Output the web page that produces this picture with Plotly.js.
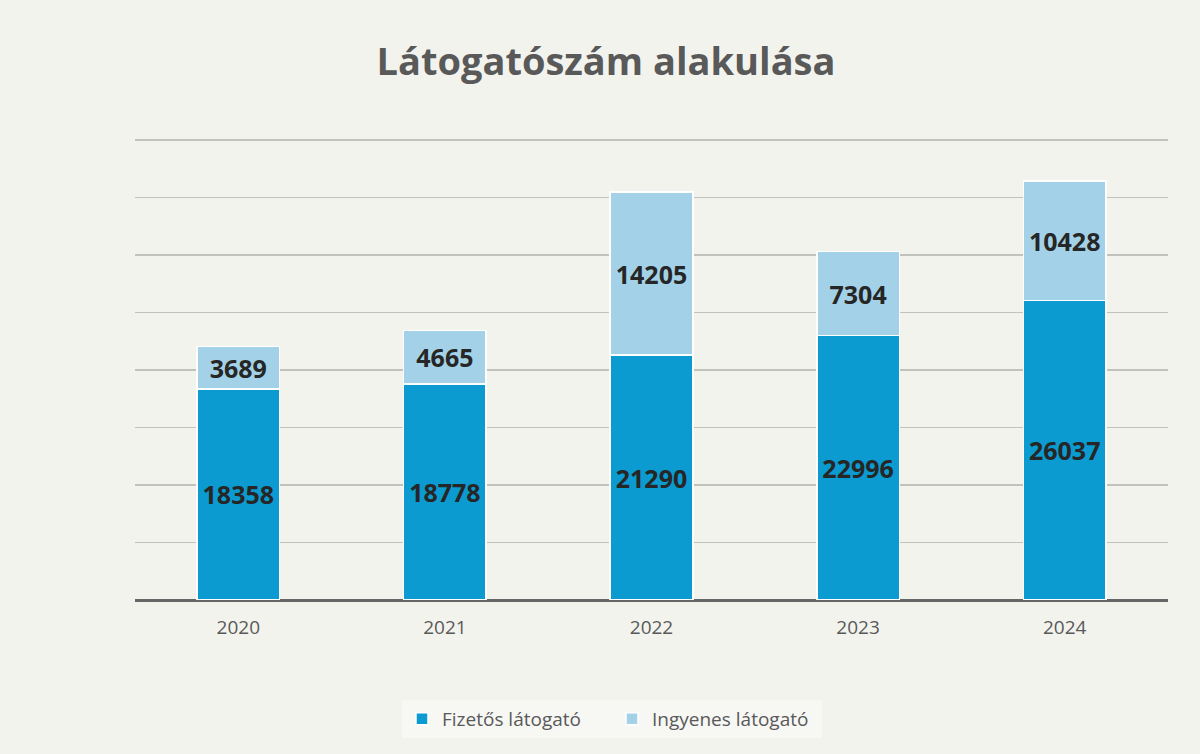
<!DOCTYPE html>
<html>
<head>
<meta charset="utf-8">
<script src="https://cdn.plot.ly/plotly-3.0.1.min.js"></script>
<style>
html,body{margin:0;padding:0;background:#f3f3ee;}
#chart{width:1200px;height:754px;}
</style>
</head>
<body>
<div id="chart"></div>
<script>
const years = ['2020', '2021', '2022', '2023', '2024'];
const fizetos = [18358, 18778, 21290, 22996, 26037];
const ingyenes = [3689, 4665, 14205, 7304, 10428];
const seriesNames = ['Fizetős látogató', 'Ingyenes látogató'];
const titleText = 'Látogatószám alakulása';

const labelFont = {family: 'Open Sans, Noto Sans, sans-serif', size: 25, color: '#262626', weight: 700};

const traces = [
  {
    type: 'bar', name: seriesNames[0], x: years, y: fizetos,
    marker: {color: '#0b9bd0', line: {color: '#ffffff', width: 1.5}},
    text: fizetos.map(String), texttemplate: '<b>%{text}</b>',
    textposition: 'inside', insidetextanchor: 'middle', textangle: 0,
    constraintext: 'none', textfont: labelFont, hoverinfo: 'x+y+name'
  },
  {
    type: 'bar', name: seriesNames[1], x: years, y: ingyenes,
    marker: {color: '#a3d2e8', line: {color: '#ffffff', width: 1.5}},
    text: ingyenes.map(String), texttemplate: '<b>%{text}</b>',
    textposition: 'inside', insidetextanchor: 'middle', textangle: 0,
    constraintext: 'none', textfont: labelFont, hoverinfo: 'x+y+name'
  }
];

const layout = {
  width: 1200, height: 754,
  paper_bgcolor: '#f3f3ee', plot_bgcolor: 'rgba(0,0,0,0)',
  barmode: 'stack', bargap: 0.6,
  margin: {l: 135, r: 32, t: 139, b: 154},
  title: {
    text: '<b>' + titleText + '</b>',
    font: {family: 'Open Sans, Noto Sans, sans-serif', size: 38, color: '#595959'},
    x: 0.505, xanchor: 'center', xref: 'container',
    y: 1 - 62 / 754, yanchor: 'middle', yref: 'container'
  },
  xaxis: {
    type: 'category', showgrid: false, showline: false, ticks: '',
    tickfont: {family: 'Open Sans, Noto Sans, sans-serif', size: 19, color: '#595959'},
    ticklabelstandoff: 14, zeroline: false
  },
  yaxis: {
    range: [0, 40100], tick0: 0, dtick: 5000, showticklabels: false,
    showgrid: true, gridcolor: '#c2c2bd', gridwidth: 1.5,
    zeroline: true, zerolinecolor: '#666666', zerolinewidth: 3, fixedrange: true
  },
  showlegend: true,
  legend: {
    orientation: 'h', xref: 'container', x: 0.51, xanchor: 'center',
    yref: 'container', y: 1 - 719 / 754, yanchor: 'middle',
    font: {family: 'Open Sans, Noto Sans, sans-serif', size: 19, color: '#595959'},
    bgcolor: 'rgba(255,255,255,0.35)', traceorder: 'normal', itemwidth: 30,
    entrywidth: 165, entrywidthmode: 'pixels'
  }
};

Plotly.newPlot('chart', traces, layout, {displayModeBar: false, staticPlot: true});
</script>
</body>
</html>
